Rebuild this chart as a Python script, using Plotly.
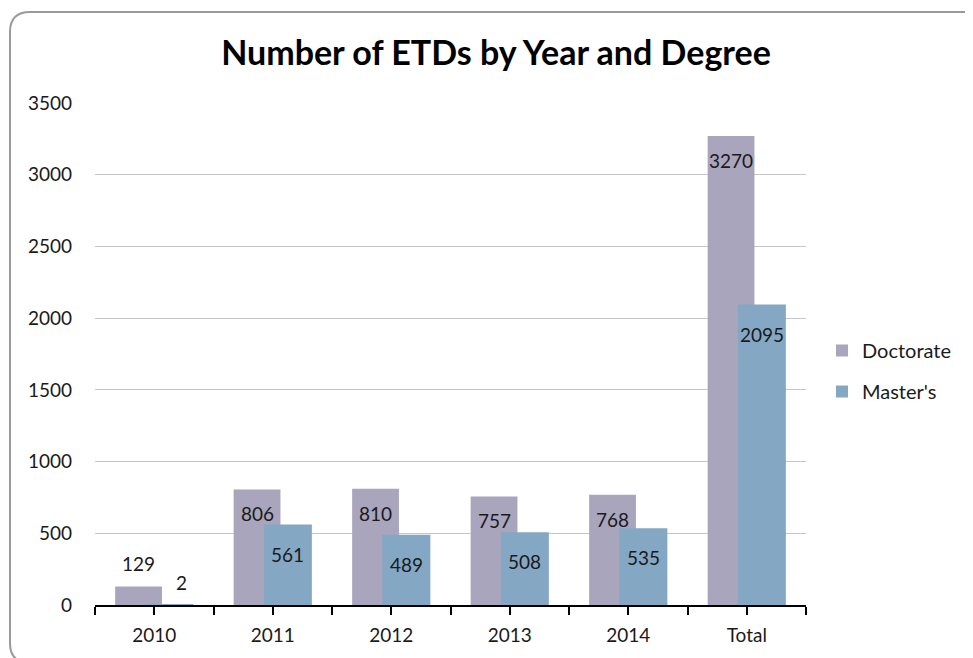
import plotly.graph_objects as go

categories = ["2010", "2011", "2012", "2013", "2014", "Total"]
doctorate = [129, 806, 810, 757, 768, 3270]
masters = [2, 561, 489, 508, 535, 2095]
series_names = ["Doctorate", "Master's"]
y_ticks = [0, 500, 1000, 1500, 2000, 2500, 3000, 3500]

DOC_COLOR = "#A9A5BD"
MAS_COLOR = "#84A7C4"
FONT = "Lato"

# page body has an 8px margin; work in screen pixels and convert
OFF = 8
W, H = 973 - OFF, 658 - OFF
PLOT_L, PLOT_R, PLOT_T, PLOT_B = 95, 806, 103, 605  # screen px
ML, MT = PLOT_L - OFF, PLOT_T - OFF
MR = W - (PLOT_R - OFF)
MB = H - (PLOT_B - OFF)
PW, PH = PLOT_R - PLOT_L, PLOT_B - PLOT_T


def sx(px):
    return (px - PLOT_L) / PW


def sy(py):
    return (PLOT_B - py) / PH


xs = list(range(len(categories)))
DOC_OFF, DOC_W = -0.33, 0.395
MAS_OFF, MAS_W = -0.075, 0.405

fig = go.Figure()
fig.add_trace(go.Bar(
    x=xs, y=doctorate, name=series_names[0], marker_color=DOC_COLOR,
    marker_line_width=0, offset=DOC_OFF, width=DOC_W, legendgroup="d",
    hoverinfo="y",
))
fig.add_trace(go.Bar(
    x=xs, y=masters, name=series_names[1], marker_color=MAS_COLOR,
    marker_line_width=0, offset=MAS_OFF, width=MAS_W, legendgroup="m",
    hoverinfo="y",
))

annotations = []
for i, v in enumerate(doctorate):
    inside = v > 300
    annotations.append(dict(
        x=xs[i] + DOC_OFF + DOC_W / 2, y=v, xref="x", yref="y",
        text=str(v), showarrow=False,
        yanchor="top" if inside else "bottom",
        yshift=-11 if inside else 10,
        font=dict(family=FONT, size=19, color="#1a1a1a"),
    ))
for i, v in enumerate(masters):
    inside = v > 300
    annotations.append(dict(
        x=xs[i] + MAS_OFF + MAS_W / 2, y=v, xref="x", yref="y",
        text=str(v), showarrow=False,
        yanchor="top" if inside else "bottom",
        yshift=-16 if inside else 9,
        xshift=0 if inside else 12,
        font=dict(family=FONT, size=19, color="#1a1a1a"),
    ))

tickvals = []
ticktext = []
for i, c in enumerate(categories):
    tickvals += [i - 0.5, i]
    ticktext += ["", c]
tickvals.append(len(categories) - 0.5)
ticktext.append("")

# rounded outer border (screen px)
x0, y0 = sx(10), sy(12)
x1, y1 = sx(990), sy(663)
rx, ry = 20 / PW, 20 / PH
path = (
    f"M {x0},{y1 + ry} L {x0},{y0 - ry} Q {x0},{y0} {x0 + rx},{y0} "
    f"L {x1 - rx},{y0} Q {x1},{y0} {x1},{y0 - ry} "
    f"L {x1},{y1 + ry} Q {x1},{y1} {x1 - rx},{y1} "
    f"L {x0 + rx},{y1} Q {x0},{y1} {x0},{y1 + ry} Z"
)

fig.update_layout(
    width=W, height=H,
    margin=dict(l=ML, r=MR, t=MT, b=MB, pad=0, autoexpand=False),
    paper_bgcolor="white", plot_bgcolor="white",
    barmode="overlay",
    font=dict(family=FONT, size=19, color="#1a1a1a"),
    title=dict(
        text="<b>Number of ETDs by Year and Degree</b>",
        x=(496 - OFF) / W, xanchor="center",
        y=1 - (53 - OFF) / H, yanchor="middle",
        font=dict(family=FONT, size=34, color="black"),
    ),
    showlegend=True,
    legend=dict(
        x=sx(822), xanchor="left",
        y=sy(371), yanchor="middle",
        traceorder="grouped", tracegroupgap=12,
        font=dict(family=FONT, size=20, color="#1a1a1a"),
        itemwidth=30, bgcolor="rgba(0,0,0,0)",
    ),
    xaxis=dict(
        range=[-0.5, len(categories) - 0.5],
        tickmode="array", tickvals=tickvals, ticktext=ticktext,
        ticks="outside", ticklen=8, tickwidth=1.5, tickcolor="black",
        showline=True, linecolor="black", linewidth=1.5,
        showgrid=False, zeroline=False, ticklabelstandoff=4,
        tickfont=dict(family=FONT, size=19, color="#1a1a1a"),
        fixedrange=True, automargin=False,
    ),
    xaxis2=dict(
        range=[-0.5, len(categories) - 0.5], overlaying="x", anchor="y",
        side="bottom",
        tickmode="array", tickvals=tickvals, ticktext=[""] * len(tickvals),
        ticks="inside", ticklen=7, tickwidth=1.5, tickcolor="black",
        showline=False, showgrid=False, zeroline=False,
        showticklabels=False, fixedrange=True, automargin=False,
    ),
    yaxis=dict(
        range=[0, 3500], tickmode="array", tickvals=y_ticks,
        showgrid=True, gridcolor="#C6C6C6", gridwidth=1.2,
        zeroline=False, showline=False, ticks="",
        ticklabelstandoff=22,
        tickfont=dict(family=FONT, size=19, color="#1a1a1a"),
        fixedrange=True, automargin=False,
    ),
    annotations=annotations,
    shapes=[dict(
        type="path", path=path, xref="paper", yref="paper",
        line=dict(color="#9a9a9a", width=2), layer="below",
    )],
)

fig.write_html("out.html")
